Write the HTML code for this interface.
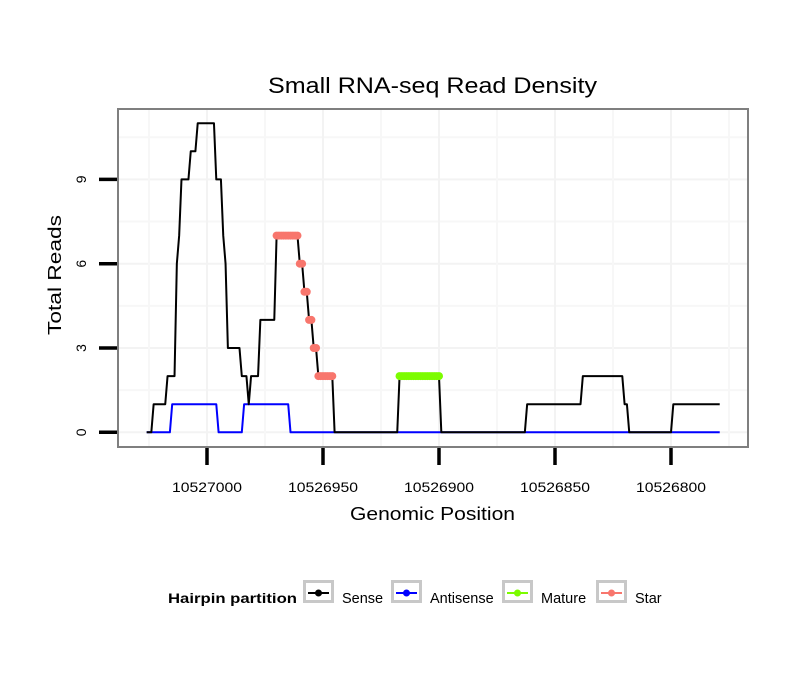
<!DOCTYPE html>
<html><head><meta charset="utf-8"><style>
html,body{margin:0;padding:0;background:#fff;}
svg{display:block;font-family:"Liberation Sans",sans-serif;}
</style></head><body>
<svg id="chart" width="810" height="690" viewBox="0 0 810 690">
<rect x="0" y="0" width="810" height="690" fill="#fff"/>
<text x="268" y="93" textLength="329" lengthAdjust="spacingAndGlyphs" font-size="22" fill="#000">Small RNA-seq Read Density</text>
<g id="grid"></g>
<g id="series"></g>
<rect x="118" y="109" width="630" height="338" fill="none" stroke="#7f7f7f" stroke-width="2"/>
<g id="axes"></g>
<text x="350" y="520" textLength="165" lengthAdjust="spacingAndGlyphs" font-size="18">Genomic Position</text>
<text transform="translate(61,335) rotate(-90)" textLength="120" lengthAdjust="spacingAndGlyphs" font-size="18">Total Reads</text>
<g id="legend">
<text x="168" y="603" textLength="129" lengthAdjust="spacingAndGlyphs" font-size="14" font-weight="bold">Hairpin partition</text>
</g>
</svg>
<script>
const startPos = 10527026;
const senseValues = [0,1,2,6,7,9,10,11,9,7,6,3,2,1,2,4,7,6,5,4,3,2,0,2,0,1,2,1,0,1];
const senseLengths = [3,6,4,1,1,4,3,8,3,1,1,6,3,1,4,7,10,2,2,2,2,7,28,18,37,24,18,2,19,21];
const antiValues = [0,1,0,1,0];
const antiLengths = [11,20,11,20,186];
const starRange = [56,80];
const matureRange = [109,126];
const yTicks = [0,3,6,9];
const xTicks = [10527000,10526950,10526900,10526850,10526800];

const NS="http://www.w3.org/2000/svg";
function X(pos){return 207 + (10527000 - pos)*2.32;}
function Y(v){return 432.3 - v*28.1;}
function mk(tag,attrs,parent){const e=document.createElementNS(NS,tag);for(const k in attrs)e.setAttribute(k,attrs[k]);parent.appendChild(e);return e;}
function expand(vals,lens){const o=[];vals.forEach((v,i)=>{for(let j=0;j<lens[i];j++)o.push(v);});return o;}
const sense=expand(senseValues,senseLengths);
const anti=expand(antiValues,antiLengths);

const grid=document.getElementById('grid');
for(let v=0;v<=12;v+=1.5){const y=Y(v);if(y<110||y>446)continue;
 const l=mk('line',{x1:119,x2:747,y1:y,y2:y,stroke:v%3===0?'#f3f3f3':'#f7f7f7','stroke-width':2},grid);
 
 }
for(let p=10527050;p>=10526750;p-=25){const x=X(p);if(x<119||x>747)continue;
 const l=mk('line',{x1:x,x2:x,y1:110,y2:446,stroke:p%50===0?'#f3f3f3':'#f7f7f7','stroke-width':2},grid);
 
 }

const ser=document.getElementById('series');
function path(arr,color,w,name){let d='';arr.forEach((v,i)=>{d+=(i?'L':'M')+X(startPos-i).toFixed(2)+','+Y(v).toFixed(2);});
 const p=mk('path',{d:d,fill:'none',stroke:color,'stroke-width':w,'stroke-linejoin':'round'},ser);
 
 }
path(anti,'#0000ff',2,'antisense-line');
path(sense,'#000000',2,'sense-line');
function pts(range,color,name){for(let i=range[0];i<=range[1];i++){
 const c=mk('circle',{cx:X(startPos-i),cy:Y(sense[i]),r:4,fill:color},ser);
 
 }}
pts(starRange,'#f8766d','star-point');
pts(matureRange,'#7cfc00','mature-point');

const ax=document.getElementById('axes');
yTicks.forEach(v=>{const y=Y(v);
 const t=mk('line',{x1:99,x2:117,y1:y,y2:y,stroke:'#000','stroke-width':3.5},ax);
 
 
 const tx=mk('text',{transform:`translate(86,${y}) rotate(-90)`,'text-anchor':'middle','font-size':14},ax);
 tx.textContent=v;
 
 });
xTicks.forEach(p=>{const x=X(p);
 const t=mk('line',{x1:x,x2:x,y1:448,y2:465,stroke:'#000','stroke-width':3.5},ax);
 
 
 const tx=mk('text',{x:x-35,y:492,textLength:70,lengthAdjust:'spacingAndGlyphs','font-size':14},ax);
 tx.textContent=p;
 
 });

const leg=document.getElementById('legend');
const legNames=['Sense','Antisense','Mature','Star'];
const legColors=['#000000','#0000ff','#7cfc00','#f8766d'];
const legBox=[303,391,502,596];
legNames.forEach((n,i)=>{const x=legBox[i];
 const g=mk('g',{},leg);
 
 
 mk('rect',{x:x+1.5,y:581.5,width:28,height:20,fill:'#fff',stroke:'#c8c8c8','stroke-width':3},g);
 mk('line',{x1:x+5,x2:x+26,y1:593,y2:593,stroke:legColors[i],'stroke-width':2},g);
 mk('circle',{cx:x+15.5,cy:593,r:3.5,fill:legColors[i]},g);
 const t=mk('text',{x:x+39,y:603,'font-size':14.5},g);
 t.textContent=n;});
</script>
</body></html>
